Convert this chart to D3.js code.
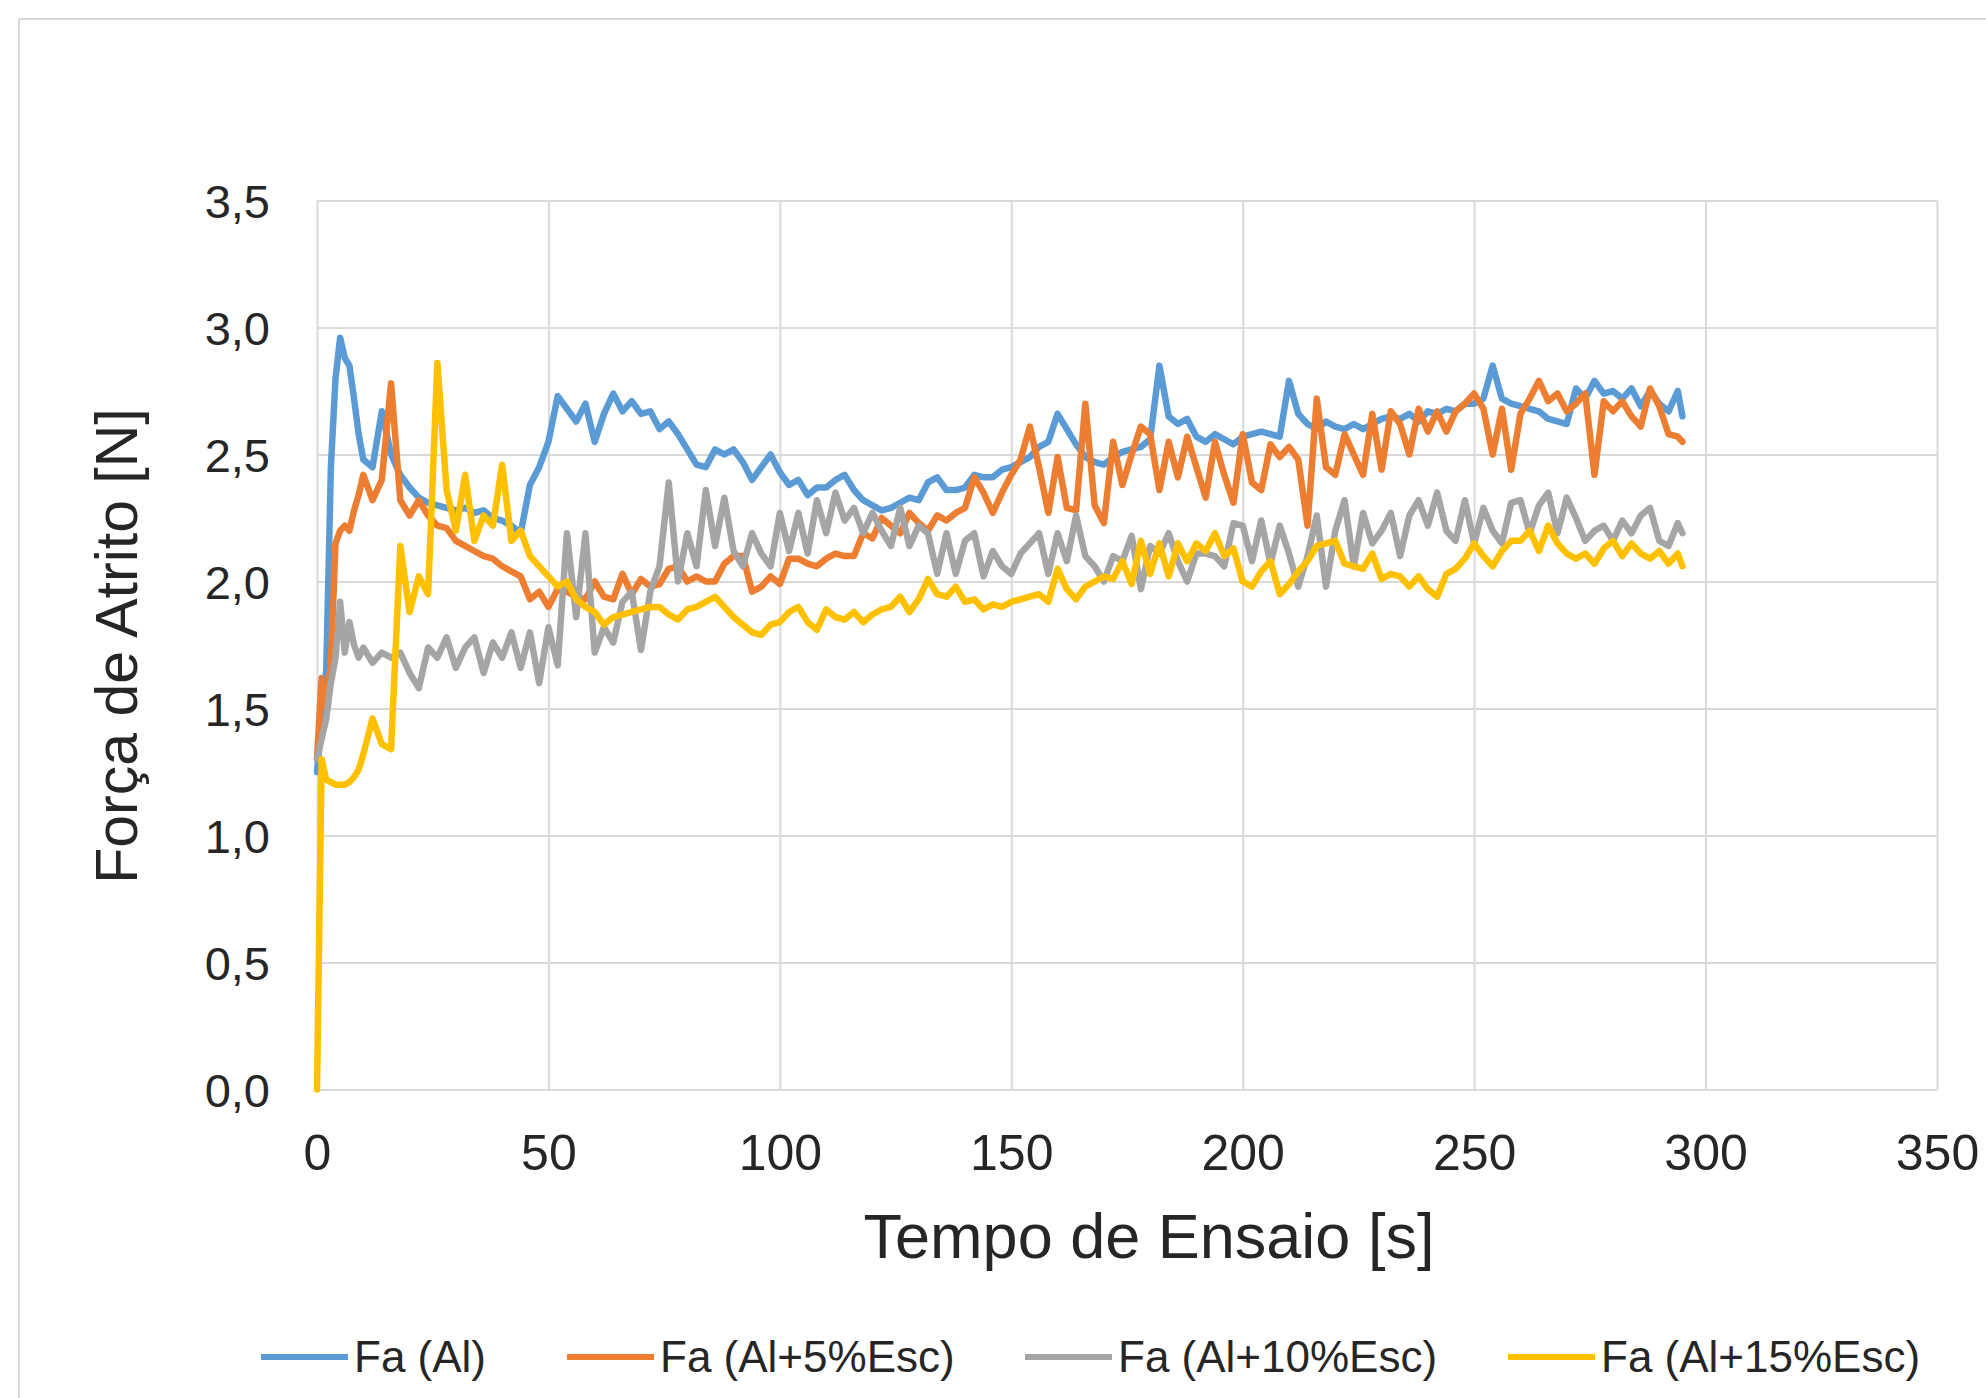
<!DOCTYPE html>
<html>
<head>
<meta charset="utf-8">
<script src="https://cdn.jsdelivr.net/npm/d3@7"></script>
<style>
  body { margin: 0; background: #fff; }
  svg text { font-family: "Liberation Sans", Arial, sans-serif; fill: #262626; }
</style>
</head>
<body>
<div id="chart"></div>
<script>
// sample times [s]
const times = [
  0, 1, 2, 3, 4, 5, 6, 7, 8, 9, 10,
  12, 14, 16, 18, 20, 22, 24, 26, 28, 30,
  32, 34, 36, 38, 40, 42, 44, 46, 48, 50,
  52, 54, 56, 58, 60, 62, 64, 66, 68, 70,
  72, 74, 76, 78, 80, 82, 84, 86, 88, 90,
  92, 94, 96, 98, 100, 102, 104, 106, 108, 110,
  112, 114, 116, 118, 120, 122, 124, 126, 128, 130,
  132, 134, 136, 138, 140, 142, 144, 146, 148, 150,
  152, 154, 156, 158, 160, 162, 164, 166, 168, 170,
  172, 174, 176, 178, 180, 182, 184, 186, 188, 190,
  192, 194, 196, 198, 200, 202, 204, 206, 208, 210,
  212, 214, 216, 218, 220, 222, 224, 226, 228, 230,
  232, 234, 236, 238, 240, 242, 244, 246, 248, 250,
  252, 254, 256, 258, 260, 262, 264, 266, 268, 270,
  272, 274, 276, 278, 280, 282, 284, 286, 288, 290,
  292, 294, 295
];

// Fa (Al)
const faAl = [
  1.25, 1.45, 1.65, 2.45, 2.8, 2.96, 2.88, 2.85, 2.72, 2.58, 2.48,
  2.45, 2.67, 2.5, 2.42, 2.37, 2.33, 2.31, 2.3, 2.29, 2.28,
  2.29, 2.27, 2.28, 2.25, 2.24, 2.22, 2.19, 2.38, 2.45, 2.55,
  2.73, 2.68, 2.63, 2.7, 2.55, 2.66, 2.74, 2.67, 2.71, 2.66,
  2.67, 2.6, 2.63, 2.58, 2.52, 2.46, 2.45, 2.52, 2.5, 2.52,
  2.47, 2.4, 2.45, 2.5, 2.43, 2.38, 2.4, 2.34, 2.37, 2.37,
  2.4, 2.42, 2.36, 2.32, 2.3, 2.28, 2.29, 2.31, 2.33, 2.32,
  2.39, 2.41, 2.36, 2.36, 2.37, 2.42, 2.41, 2.41, 2.44, 2.45,
  2.47, 2.49, 2.53, 2.55, 2.66, 2.6, 2.54, 2.49, 2.47, 2.46,
  2.49, 2.51, 2.52, 2.53, 2.56, 2.85, 2.65, 2.62, 2.64, 2.57,
  2.55, 2.58, 2.56, 2.54, 2.57, 2.58, 2.59, 2.58, 2.57, 2.79,
  2.66, 2.62, 2.6, 2.63, 2.61, 2.6, 2.62, 2.6, 2.62, 2.64,
  2.65, 2.64, 2.66, 2.63, 2.67, 2.66, 2.68, 2.67, 2.7, 2.7,
  2.72, 2.85, 2.72, 2.7, 2.69, 2.68, 2.67, 2.64, 2.63, 2.62,
  2.76, 2.72, 2.79, 2.74, 2.75, 2.72, 2.76, 2.69, 2.75, 2.7,
  2.67, 2.75, 2.65
];

// Fa (Al+5%Esc)
const faAl5 = [
  1.3, 1.62, 1.5, 1.68, 2.15, 2.2, 2.22, 2.2, 2.28, 2.34, 2.42,
  2.32, 2.4, 2.78, 2.32, 2.26, 2.32, 2.26, 2.22, 2.21, 2.16,
  2.14, 2.12, 2.1, 2.09, 2.06, 2.04, 2.02, 1.93, 1.96, 1.9,
  1.97, 1.96, 1.94, 1.93, 2.0, 1.94, 1.93, 2.03, 1.95, 2.01,
  1.98, 1.99, 2.05, 2.06, 2.0, 2.02, 2.0, 2.0, 2.07, 2.1,
  2.1, 1.96, 1.98, 2.02, 1.99, 2.09, 2.09, 2.07, 2.06, 2.09,
  2.11, 2.1, 2.1, 2.19, 2.17, 2.25, 2.22, 2.19, 2.27, 2.23,
  2.2, 2.26, 2.24, 2.27, 2.29, 2.41, 2.35, 2.27, 2.35, 2.42,
  2.48, 2.61, 2.45, 2.27, 2.49, 2.29, 2.28, 2.7, 2.3, 2.23,
  2.55, 2.38, 2.5, 2.61, 2.58, 2.36, 2.55, 2.41, 2.57, 2.45,
  2.33, 2.55, 2.42, 2.31, 2.58, 2.39, 2.36, 2.54, 2.49, 2.53,
  2.48, 2.22, 2.72, 2.45, 2.42, 2.58, 2.5, 2.42, 2.66, 2.44,
  2.67, 2.62, 2.5, 2.68, 2.59, 2.67, 2.59, 2.67, 2.7, 2.74,
  2.68, 2.5, 2.68, 2.44, 2.66, 2.72, 2.79, 2.71, 2.74, 2.67,
  2.7, 2.74, 2.42, 2.71, 2.67, 2.71, 2.65, 2.61, 2.76, 2.69,
  2.58, 2.57, 2.55
];

// Fa (Al+10%Esc)
const faAl10 = [
  1.3, 1.38, 1.46, 1.6, 1.7, 1.92, 1.72, 1.84, 1.75, 1.7, 1.74,
  1.68, 1.72, 1.7, 1.72, 1.64, 1.58, 1.74, 1.7, 1.78, 1.66,
  1.74, 1.78, 1.64, 1.76, 1.7, 1.8, 1.66, 1.8, 1.6, 1.82,
  1.67, 2.19, 1.86, 2.19, 1.72, 1.82, 1.76, 1.92, 1.96, 1.73,
  1.96, 2.06, 2.39, 2.0, 2.19, 2.06, 2.36, 2.14, 2.33, 2.12,
  2.06, 2.19, 2.11, 2.06, 2.27, 2.12, 2.27, 2.11, 2.32, 2.19,
  2.35, 2.24, 2.29, 2.19, 2.27, 2.2, 2.14, 2.29, 2.14, 2.22,
  2.19, 2.03, 2.19, 2.03, 2.16, 2.19, 2.02, 2.12, 2.06, 2.03,
  2.11, 2.15, 2.19, 2.03, 2.19, 2.08, 2.26, 2.1, 2.06, 2.0,
  2.1, 2.08, 2.18, 1.97, 2.14, 2.11, 2.19, 2.08, 2.0, 2.11,
  2.11, 2.1, 2.06, 2.23, 2.22, 2.08, 2.24, 2.07, 2.22, 2.11,
  1.98, 2.1, 2.26, 1.98, 2.2, 2.32, 2.06, 2.27, 2.15, 2.2,
  2.27, 2.1, 2.26, 2.32, 2.22, 2.35, 2.2, 2.16, 2.32, 2.15,
  2.29, 2.2, 2.15, 2.31, 2.32, 2.19, 2.3, 2.35, 2.19, 2.33,
  2.25, 2.16, 2.2, 2.22, 2.16, 2.24, 2.19, 2.26, 2.29, 2.16,
  2.14, 2.23, 2.19
];

// Fa (Al+15%Esc)
const faAl15 = [
  0, 1.3, 1.22, 1.21, 1.2, 1.2, 1.2, 1.21, 1.23, 1.26, 1.32,
  1.46, 1.36, 1.34, 2.14, 1.88, 2.02, 1.95, 2.86, 2.36, 2.2,
  2.42, 2.16, 2.26, 2.22, 2.46, 2.16, 2.2, 2.1, 2.06, 2.02,
  1.98, 2.0, 1.93, 1.9, 1.88, 1.83, 1.86, 1.87, 1.88, 1.89,
  1.9, 1.9, 1.87, 1.85, 1.89, 1.9, 1.92, 1.94, 1.9, 1.86,
  1.83, 1.8, 1.79, 1.83, 1.84, 1.88, 1.9, 1.84, 1.81, 1.89,
  1.86, 1.85, 1.88, 1.84, 1.87, 1.89, 1.9, 1.94, 1.88, 1.93,
  2.01, 1.95, 1.94, 1.98, 1.92, 1.93, 1.89, 1.91, 1.9, 1.92,
  1.93, 1.94, 1.95, 1.92, 2.05, 1.97, 1.93, 1.98, 2.0, 2.02,
  2.01, 2.08, 1.99, 2.16, 2.03, 2.15, 2.02, 2.15, 2.08, 2.15,
  2.12, 2.19, 2.1, 2.13, 2.0, 1.98, 2.04, 2.08, 1.95, 1.99,
  2.04, 2.08, 2.14, 2.15, 2.16, 2.07, 2.06, 2.05, 2.11, 2.01,
  2.03, 2.02, 1.98, 2.02, 1.97, 1.94, 2.03, 2.05, 2.09, 2.15,
  2.1, 2.06, 2.12, 2.16, 2.16, 2.2, 2.12, 2.22, 2.15, 2.11,
  2.09, 2.11, 2.07, 2.13, 2.16, 2.1, 2.15, 2.11, 2.09, 2.12,
  2.07, 2.11, 2.06
];

const seriesNames = ["Fa (Al)", "Fa (Al+5%Esc)", "Fa (Al+10%Esc)", "Fa (Al+15%Esc)"];
const seriesColors = ["#5B9BD5", "#ED7D31", "#A5A5A5", "#FFC000"];
const xTicks = [0, 50, 100, 150, 200, 250, 300, 350];
const yTicks = [0, 0.5, 1, 1.5, 2, 2.5, 3, 3.5];
const yTickLabels = ["0,0", "0,5", "1,0", "1,5", "2,0", "2,5", "3,0", "3,5"];

const W = 1986, H = 1398;
const plot = { left: 317, right: 1937, top: 200.5, bottom: 1089.5 };

const svg = d3.select("#chart").append("svg")
  .attr("width", W)
  .attr("height", H)
  .attr("viewBox", `0 0 ${W} ${H}`);

svg.append("rect").attr("width", W).attr("height", H).attr("fill", "#fff");

// chart area border (only top and left edges are inside the picture)
svg.append("rect")
  .attr("x", 19).attr("y", 19)
  .attr("width", W).attr("height", H)
  .attr("fill", "none")
  .attr("stroke", "#d9d9d9")
  .attr("stroke-width", 2);

const x = d3.scaleLinear().domain([0, 350]).range([plot.left, plot.right]);
const y = d3.scaleLinear().domain([0, 3.5]).range([plot.bottom, plot.top]);

// Vertical gridlines + x labels
const xAxis = svg.append("g")
  .attr("transform", `translate(0,${plot.bottom})`)
  .call(d3.axisBottom(x).tickValues(xTicks).tickSize(-(plot.bottom - plot.top)).tickFormat(d3.format("d")));
xAxis.select(".domain").remove();
xAxis.selectAll("line").attr("stroke", "#d9d9d9").attr("stroke-width", 2);
xAxis.selectAll("text")
  .attr("y", 80)
  .attr("dy", 0)
  .style("font-size", "50px");

// Horizontal gridlines + y labels
const yAxis = svg.append("g")
  .attr("transform", `translate(${plot.left},0)`)
  .call(d3.axisLeft(y).tickValues(yTicks).tickSize(-(plot.right - plot.left))
    .tickFormat((d, i) => yTickLabels[i]));
yAxis.select(".domain").remove();
yAxis.selectAll("line").attr("stroke", "#d9d9d9").attr("stroke-width", 2);
yAxis.selectAll("text")
  .attr("x", -47)
  .attr("dy", "0.36em")
  .style("font-size", "47px");

// Axis titles
svg.append("text")
  .attr("x", 1149).attr("y", 1258)
  .attr("text-anchor", "middle")
  .style("font-size", "63px")
  .text("Tempo de Ensaio [s]");

svg.append("text")
  .attr("transform", "translate(137,646) rotate(-90)")
  .attr("text-anchor", "middle")
  .style("font-size", "59px")
  .text("Força de Atrito [N]");

// Lines
const allSeries = [faAl, faAl5, faAl10, faAl15];
const line = d3.line()
  .x((d, i) => x(times[i]))
  .y(d => y(d));

svg.append("g")
  .selectAll("path")
  .data(allSeries)
  .join("path")
  .attr("d", line)
  .attr("fill", "none")
  .attr("stroke", (d, i) => seriesColors[i])
  .attr("stroke-width", 6.5)
  .attr("stroke-linejoin", "round")
  .attr("stroke-linecap", "round");

// Legend
const legendX = [261, 567, 1025, 1508];
const legend = svg.append("g")
  .selectAll("g")
  .data(seriesNames)
  .join("g")
  .attr("transform", (d, i) => `translate(${legendX[i]},1357)`);

legend.append("line")
  .attr("x1", 0).attr("x2", 87)
  .attr("y1", 0).attr("y2", 0)
  .attr("stroke", (d, i) => seriesColors[i])
  .attr("stroke-width", 6);

legend.append("text")
  .attr("x", 93)
  .attr("y", 15)
  .style("font-size", "44px")
  .text(d => d);
</script>
</body>
</html>
